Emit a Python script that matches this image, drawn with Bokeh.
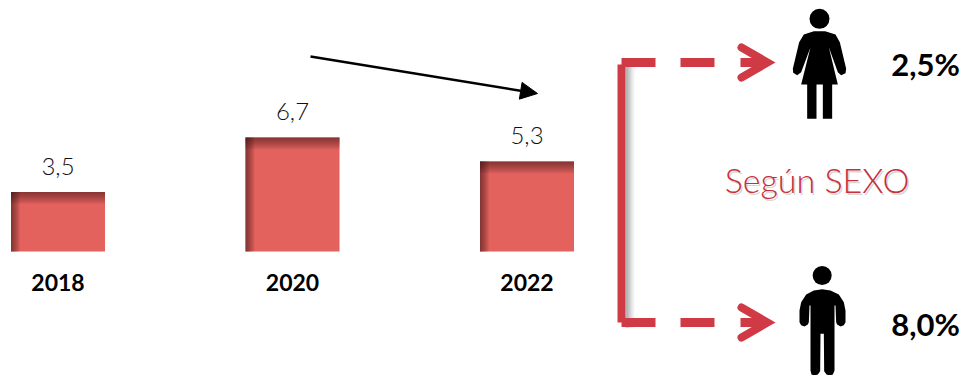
from bokeh.plotting import figure
from bokeh.models import Range1d, Arrow, NormalHead, FixedTicker, LinearAxis
from bokeh.core.properties import value
from bokeh.embed import file_html
from bokeh.resources import INLINE

years = ["2018", "2020", "2022"]
values = [3.5, 6.7, 5.3]
value_labels = ["3,5", "6,7", "5,3"]
sex_labels = ["2,5%", "8,0%"]
sex_title = "Según SEXO"

W, H = 963, 375
X_UNIT, Y_UNIT = 234.5, 17.0     # pixels per category / per value unit
X0, Y0 = 57.5, 251.0             # page position of first category, baseline
RED = "#CF3A45"
BAR = "#E4625E"
LIGHT = "Lato Light"
BOLD = "Lato"

p = figure(width=W, height=H, output_backend="svg", toolbar_location=None,
           x_range=Range1d(-X0 / X_UNIT, (W - X0) / X_UNIT),
           y_range=Range1d((Y0 - H) / Y_UNIT, Y0 / Y_UNIT),
           x_axis_location=None, y_axis_location=None, min_border=0,
           outline_line_color=None, background_fill_color="white")
p.grid.visible = False
p.extra_x_ranges["px"] = Range1d(0, W)
p.extra_y_ranges["px"] = Range1d(H, 0)

xs = list(range(len(values)))
half = 47 / X_UNIT
left = [x - half for x in xs]
right = [x + half for x in xs]
p.quad(left=left, right=right, bottom=0, top=values, fill_color=BAR, line_color=None)

# inner shadow along the top and left edges of each bar
for k in range(1, 13):
    p.quad(left=left, right=right, bottom=[v - k / Y_UNIT for v in values], top=values,
           fill_color="#301010", fill_alpha=0.055, line_color=None)
for k in range(1, 10):
    p.quad(left=left, right=[l + k / X_UNIT for l in left], bottom=0, top=values,
           fill_color="#301010", fill_alpha=0.07, line_color=None)

p.text(xs, values, text=value_labels, text_align="center", text_baseline="alphabetic",
       y_offset=-26, text_font=value(LIGHT), text_font_size="24px", text_color="#111111")

axis = LinearAxis(ticker=FixedTicker(ticks=xs),
                  major_label_overrides={x: y for x, y in zip(xs, years)},
                  fixed_location=0, axis_line_color=None, major_tick_line_color=None,
                  minor_tick_line_color=None, major_label_standoff=16,
                  major_label_text_font=BOLD, major_label_text_font_size="23px",
                  major_label_text_font_style="bold", major_label_text_color="#000000")
p.add_layout(axis, "below")

px = dict(x_range_name="px", y_range_name="px")

# trend arrow
p.add_layout(Arrow(end=NormalHead(size=17, fill_color="black", line_color="black"),
                   x_start=310, y_start=56, x_end=537, y_end=93,
                   line_color="black", line_width=2.5, **px))

# bracket shadow
for off, a in [(9, .08), (7, .12), (5, .16), (3, .2)]:
    p.quad(left=[625], right=[625 + off], top=[66], bottom=[327], fill_color="#666666",
           fill_alpha=a, line_color=None, **px)
p.quad(left=[617], right=[625], top=[64], bottom=[322], fill_color=RED, line_color=None, **px)
for yc in (62, 322):
    p.quad(left=[621], right=[655], top=[yc - 4.5], bottom=[yc + 4.5], fill_color=RED, line_color=None, **px)
    p.quad(left=[680], right=[714], top=[yc - 4.5], bottom=[yc + 4.5], fill_color=RED, line_color=None, **px)
    p.quad(left=[740], right=[764], top=[yc - 4.5], bottom=[yc + 4.5], fill_color=RED, line_color=None, **px)
    p.line([741, 767, 741], [yc - 15, yc, yc + 15], line_color=RED, line_width=8,
           line_cap="round", line_join="miter", **px)

# woman pictogram (outline in zoomed reference pixels)
woman_x = [640, 674, 705, 718, 737, 735, 722, 712, 685, 712, 695, 695, 667, 667, 648, 648, 620, 620, 602, 630, 602, 590, 578, 577, 596, 610]
woman_y = [92, 92, 102, 125, 205, 218, 224, 215, 140, 252, 252, 355, 355, 252, 252, 355, 355, 252, 252, 140, 215, 224, 217, 205, 125, 102]
p.patch([600 + x / 3 for x in woman_x], [y / 3 for y in woman_y], fill_color="black", line_color=None, **px)
p.circle([600 + 657 / 3], [55 / 3], radius=10, fill_color="black", line_color=None, **px)

# man pictogram
man_x = [640, 665, 690, 715, 730, 735, 735, 730, 720, 710, 707, 705, 702, 702, 697, 688, 678, 671, 670, 660, 659, 652, 642, 633, 630, 630, 627, 625, 622, 612, 602, 597, 597, 602, 617]
man_y = [150, 146, 150, 162, 185, 210, 245, 254, 258, 252, 245, 195, 195, 390, 402, 405, 402, 392, 280, 280, 392, 402, 405, 402, 390, 195, 195, 245, 252, 258, 254, 245, 210, 185, 162]
p.patch([600 + x / 3 for x in man_x], [240 + y / 3 for y in man_y], fill_color="black", line_color=None, **px)
p.circle([600 + 665 / 3], [240 + 105 / 3], radius=9.5, fill_color="black", line_color=None, **px)

p.text([925, 925], [63, 323], text=sex_labels, text_align="center", text_baseline="alphabetic",
       text_font=value(BOLD), text_font_style="bold", text_font_size="31px", text_color="black", **px)

p.text([816.5], [179], text=[sex_title], text_align="center", text_baseline="middle",
       text_font=value(LIGHT), text_font_size="34px", text_color="#999999", text_alpha=0.4,
       x_offset=1.5, y_offset=1.5, **px)
p.text([816.5], [179], text=[sex_title], text_align="center", text_baseline="middle",
       text_font=value(LIGHT), text_font_size="34px", text_color="#C8303C", **px)

open("out.html", "w").write(file_html(p, INLINE))
